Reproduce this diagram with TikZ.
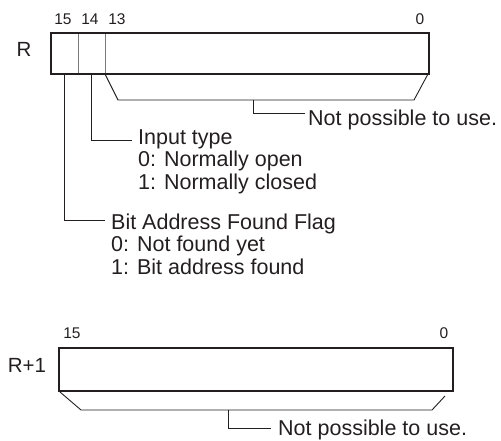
\documentclass[tikz,border=0pt]{standalone}
\usepackage{fontspec}
\setmainfont{Liberation Sans}
\definecolor{ink}{HTML}{231F20}
\begin{document}
\begin{tikzpicture}[x=1pt,y=-1pt,
  reg/.style={draw=ink,line width=2.6pt},
  thin/.style={draw=ink,line width=0.9pt},
  divider/.style={draw=ink!60,line width=0.9pt},
  bitnum/.style={inner sep=0pt,anchor=base,text=ink,font=\fontsize{15.5}{17}\selectfont},
  reglabel/.style={inner sep=0pt,anchor=base,text=ink,font=\fontsize{20.5}{22}\selectfont},
  desc/.style={inner sep=0pt,anchor=base west,text=ink,font=\fontsize{21.5}{22.5}\selectfont}]
\useasboundingbox (0,0) rectangle (501,440);

% ---- Register R ----
\coordinate (rtl) at (51,33);
\coordinate (rbr) at (429,74);
\draw[divider] (78,33) -- (78,74);
\draw[divider] (105,33) -- (105,74);
\draw[reg] (rtl) rectangle (rbr);
\node[reglabel] (lR) at (24,56) {R};
\node[bitnum] (b15) at (63,24) {15};
\node[bitnum] (b14) at (90,24) {14};
\node[bitnum] (b13) at (117,24) {13};
\node[bitnum] (b0) at (420,24) {0};

% bracket bits 13-0
\coordinate (bk1) at (105,74);
\coordinate (bk2) at (118,100);
\coordinate (bk3) at (414,100);
\coordinate (bk4) at (428,74);
\draw[thin] (bk1) -- (bk2) -- (bk3) -- (bk4);
\coordinate (st1) at (253,100);
\coordinate (st2) at (253,113);
\coordinate (st3) at (305,113);
\draw[thin] (st1) -- (st2) -- (st3);
\node[desc] (np1) at (308,125) {Not possible to use.};

% bit 14 leader
\coordinate (l14a) at (91,74);
\coordinate (l14b) at (91,140);
\coordinate (l14c) at (132,140);
\draw[thin] (l14a) -- (l14b) -- (l14c);
\node[desc] (it1) at (138,144) {Input type};
\node[desc] (it2) at (138,166.5) {0: Normally open};
\node[desc] (it3) at (138,189) {1: Normally closed};

% bit 15 leader
\coordinate (l15a) at (64,74);
\coordinate (l15b) at (64,220);
\coordinate (l15c) at (105,220);
\draw[thin] (l15a) -- (l15b) -- (l15c);
\node[desc] (bf1) at (111,229) {Bit Address Found Flag};
\node[desc] (bf2) at (111,251.5) {0: Not found yet};
\node[desc] (bf3) at (111,274) {1: Bit address found};

% ---- Register R+1 ----
\coordinate (stl) at (59,348);
\coordinate (sbr) at (453,391);
\draw[reg] (stl) rectangle (sbr);
\node[reglabel] (lR1) at (27,372) {R+1};
\node[bitnum] (c15) at (72,338) {15};
\node[bitnum] (c0) at (444,338) {0};

\coordinate (ck1) at (60,392);
\coordinate (ck2) at (81,410);
\coordinate (ck3) at (432,410);
\coordinate (ck4) at (445,396);
\draw[thin] (ck1) -- (ck2) -- (ck3) -- (ck4);
\coordinate (su1) at (228,410);
\coordinate (su2) at (228,428);
\coordinate (su3) at (271,428);
\draw[thin] (su1) -- (su2) -- (su3);
\node[desc] (np2) at (278,435) {Not possible to use.};
\end{tikzpicture}
\end{document}
